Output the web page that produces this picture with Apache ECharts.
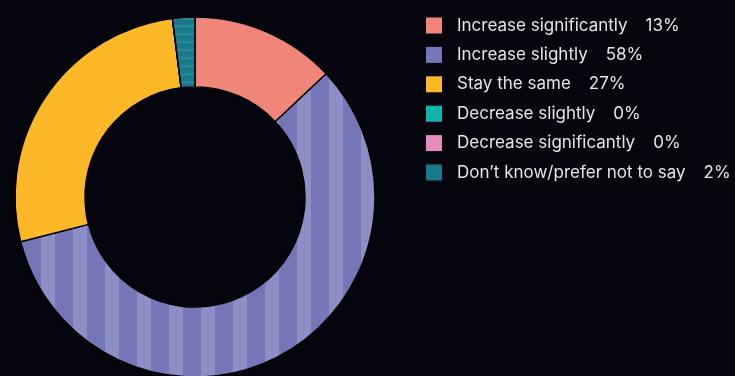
<!DOCTYPE html>
<html>
<head>
<meta charset="utf-8">
<script src="https://cdn.jsdelivr.net/npm/echarts@6/dist/echarts.min.js"></script>
<style>
html,body{margin:0;padding:0;background:#05050e;}
#c{width:735px;height:376px;}
</style>
</head>
<body>
<div id="c"></div>
<script>
var categories = ['Increase significantly','Increase slightly','Stay the same','Decrease slightly','Decrease significantly','Don\u2019t know/prefer not to say'];
var values = [13, 58, 27, 0, 0, 2];
var colors = ['#f0857a','#7476b8','#fdb827','#0fb5aa','#e58bbe','#177a8a'];

function stripePattern(w, h, base, light, draw) {
  var cv = document.createElement('canvas');
  cv.width = w; cv.height = h;
  var ctx = cv.getContext('2d');
  ctx.fillStyle = base; ctx.fillRect(0,0,w,h);
  ctx.fillStyle = light; draw(ctx);
  return cv;
}
var purpleTile = stripePattern(32, 32, '#7476b8', '#8d8ec6', function(ctx){ ctx.fillRect(9,0,14,32); });
var tealTile = stripePattern(8, 8, '#177a8a', '#2a8797', function(ctx){ ctx.fillRect(0,1,8,2.5); });

var data = categories.map(function(n,i){
  var d = {name:n, value:values[i], itemStyle:{color:colors[i]}};
  if (i === 1) d.itemStyle.color = {image: purpleTile, repeat:'repeat'};
  if (i === 5) d.itemStyle.color = {image: tealTile, repeat:'repeat'};
  return d;
});

var chart = echarts.init(document.getElementById('c'), null, {renderer:'canvas'});
chart.setOption({
  backgroundColor:'#05050e',
  animation:false,
  legend:{
    orient:'vertical', left:426, top:17, padding:0, itemWidth:16, itemHeight:16, itemGap:12.4,
    icon:'rect',
    itemStyle:{borderWidth:0},
    data: categories.map(function(n,i){ return {name:n, itemStyle:{color:colors[i], borderWidth:0}}; }),
    formatter:function(name){
      var i = categories.indexOf(name);
      return '{n|' + name + '}{v|' + values[i] + '%}';
    },
    textStyle:{
      color:'#e6e6e6', fontFamily:'Inter', fontSize:17, lineHeight:16,
      rich:{
        n:{color:'#e6e6e6', fontFamily:'Inter', fontSize:17, lineHeight:16, padding:[0,0,0,10]},
        v:{color:'#e6e6e6', fontFamily:'Inter', fontSize:17, lineHeight:16, padding:[0,0,0,18]}
      }
    }
  },
  series:[{
    type:'pie',
    center:[195,197],
    radius:[110,180],
    startAngle:90,
    clockwise:true,
    label:{show:false},
    labelLine:{show:false},
    emphasis:{disabled:true},
    itemStyle:{borderColor:'#000000', borderWidth:1.5},
    data:data
  }]
});
</script>
</body>
</html>
